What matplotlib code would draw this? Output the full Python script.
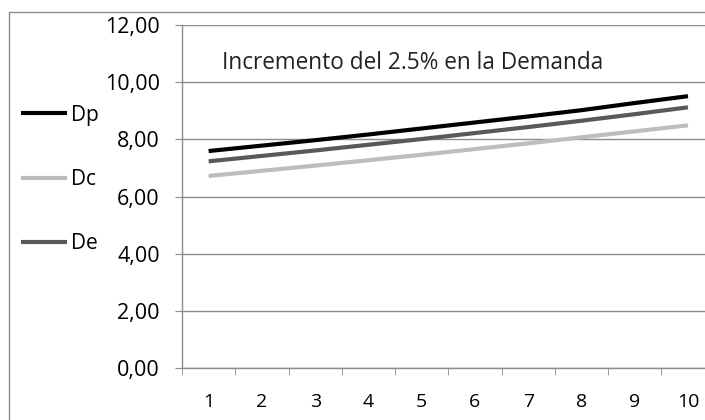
import numpy as np
import matplotlib.pyplot as plt
from matplotlib.patches import Rectangle

periodos = [1, 2, 3, 4, 5, 6, 7, 8, 9, 10]
Dp = [7.59, 7.78, 7.97, 8.17, 8.38, 8.59, 8.80, 9.02, 9.27, 9.51]
Dc = [6.72, 6.90, 7.08, 7.27, 7.46, 7.66, 7.86, 8.07, 8.28, 8.49]
De = [7.23, 7.42, 7.61, 7.81, 8.01, 8.22, 8.43, 8.65, 8.88, 9.12]
yticks = [0, 2, 4, 6, 8, 10, 12]
titulo = 'Incremento del 2.5% en la Demanda'

plt.rcParams['font.family'] = ['Open Sans', 'DejaVu Sans']
grid_col = '#8c8c8c'

fig = plt.figure(figsize=(7.05, 4.2), dpi=100)
# marco exterior del grafico (recortado a la derecha y abajo)
fig.patches.append(Rectangle((9/705, -0.1), 1.2, 1 - 12/420 + 0.1, transform=fig.transFigure,
                             fill=False, edgecolor=grid_col, linewidth=1.0))

ax = fig.add_axes([182/705, 1 - 368/420, 532.6/705, 343/420])
ax.plot(periodos, Dp, color='black', linewidth=3.0, label='Dp', solid_capstyle='butt')
ax.plot(periodos, Dc, color='#bdbdbd', linewidth=3.0, label='Dc', solid_capstyle='butt')
ax.plot(periodos, De, color='#595959', linewidth=3.0, label='De', solid_capstyle='butt')

ax.set_xlim(0.5, 10.5)
ax.set_ylim(0, 12)
ax.set_yticks(yticks)
ax.set_yticklabels(['%d,00' % v for v in yticks])
ax.set_xticks(periodos)
ax.set_xticks(np.arange(0.5, 11, 1), minor=True)
ax.tick_params(axis='x', which='major', length=0, pad=18, labelsize=14)
ax.tick_params(axis='x', which='minor', length=5, color=grid_col, direction='out')
ax.tick_params(axis='y', length=5, color=grid_col, pad=11, labelsize=15.5)
ax.yaxis.grid(True, color=grid_col, linewidth=1.0)
ax.set_axisbelow(True)
for s in ['top', 'right']:
    ax.spines[s].set_visible(False)
for s in ['left', 'bottom']:
    ax.spines[s].set_color(grid_col)
    ax.spines[s].set_linewidth(1.0)

ax.text(40/532.6, 1 - 38/343, titulo, transform=ax.transAxes, fontsize=16.3,
        va='center', ha='left', color='#222222')

ax.legend(loc='upper left', bbox_to_anchor=(2/705, 1 - 86/420), bbox_transform=fig.transFigure,
          frameon=False, fontsize=15, handlelength=2.2, handletextpad=0.2, labelspacing=2.08)

fig.savefig('out.png', dpi=100)
